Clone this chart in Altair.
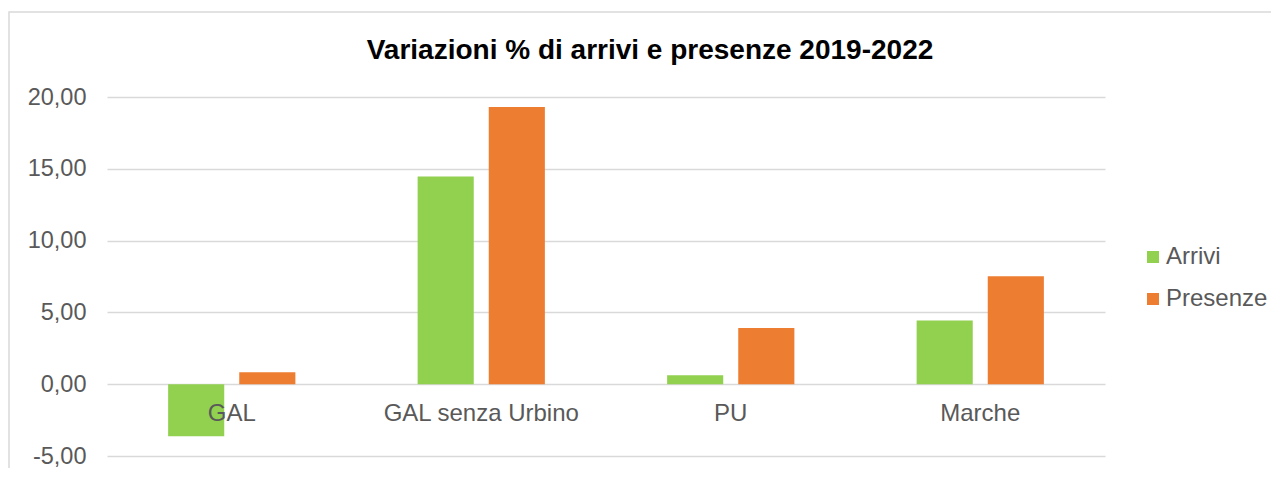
import altair as alt
import pandas as pd

categories = ["GAL", "GAL senza Urbino", "PU", "Marche"]
series = ["Arrivi", "Presenze"]
arrivi = [-3.62, 14.47, 0.63, 4.43]
presenze = [0.84, 19.30, 3.92, 7.52]
y_ticks = [-5, 0, 5, 10, 15, 20]
colors = ["#92D050", "#ED7D31"]
title_text = "Variazioni % di arrivi e presenze 2019-2022"

rows = []
for c, a, p in zip(categories, arrivi, presenze):
    rows.append({"categoria": c, "serie": series[0], "valore": a})
    rows.append({"categoria": c, "serie": series[1], "valore": p})
df = pd.DataFrame(rows)
cat_df = pd.DataFrame({"categoria": categories})

FONT = "Liberation Sans"
GRAY = "#595959"

xscale = alt.Scale(domain=categories, paddingInner=0.49, paddingOuter=0.245)
yscale = alt.Scale(domain=[-5, 20], nice=False, zero=False)

frame = alt.Chart(alt.Data(values=[{"k": 1}])).mark_rect(
    fill="transparent", stroke="#d9d9d9", strokeWidth=1.5
).encode(
    x=alt.value(-98), x2=alt.value(1250), y=alt.value(-85), y2=alt.value(520)
)

bars = alt.Chart(df).mark_bar().encode(
    x=alt.X("categoria:N", scale=xscale, axis=None, sort=categories),
    xOffset=alt.XOffset("serie:N", sort=series,
                        scale=alt.Scale(domain=series, paddingInner=0.211, paddingOuter=0)),
    y=alt.Y("valore:Q", scale=yscale, title=None,
            axis=alt.Axis(values=y_ticks, grid=True, gridColor="#d9d9d9", gridWidth=1.3,
                          domain=False, ticks=False, labelPadding=21,
                          labelFontSize=23.5, labelFont=FONT, labelColor=GRAY,
                          labelExpr="(datum.value < 0 ? '-' : '') + replace(format(abs(datum.value), '.2f'), '.', ',')")),
    color=alt.Color("serie:N", sort=series,
                    scale=alt.Scale(domain=series, range=colors),
                    legend=alt.Legend(title=None, orient="none", legendX=1034, legendY=148,
                                      symbolType="square", symbolSize=144, symbolStrokeWidth=0,
                                      labelFontSize=24, labelFont=FONT, labelColor=GRAY,
                                      labelOffset=1, rowPadding=18, padding=0)),
)

labels = alt.Chart(cat_df).mark_text(
    fontSize=24, font=FONT, color=GRAY, baseline="alphabetic", dy=37
).encode(
    x=alt.X("categoria:N", scale=xscale, axis=None, sort=categories),
    y=alt.datum(0),
    text="categoria:N",
)

chart = alt.layer(frame, bars, labels).properties(
    width=998,
    height=359,
    padding={"left": 99, "top": 89, "right": 166, "bottom": 12},
    autosize=alt.AutoSizeParams(type="none"),
    title=alt.TitleParams(title_text, fontSize=28, fontWeight="bold", font=FONT,
                          color="black", anchor="middle", dx=44, offset=-53.5),
).configure_view(stroke=None)

chart.save("out.html", embed_options={"renderer": "svg", "actions": False})
